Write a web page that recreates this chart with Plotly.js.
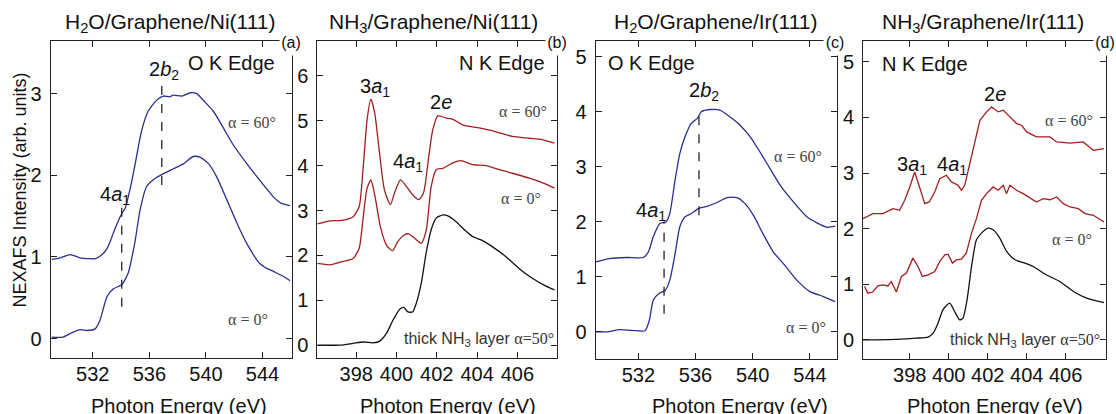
<!DOCTYPE html>
<html><head><meta charset="utf-8">
<script src="https://cdn.plot.ly/plotly-3.0.1.min.js"></script>
<style>html,body{margin:0;padding:0;background:#fff}#chart{width:1116px;height:414px}</style>
</head><body><div id="chart"></div>
<script>
// ---------- Panel (a): H2O / Graphene / Ni(111), O K edge ----------
const aE60 = [529.1,529.7,530.4,531.1,531.7,532.2,532.6,533.0,533.3,533.58,534.05,534.3,534.5,534.75,535.0,535.46,535.93,536.52,537.0,537.4,537.7,538.3,538.9,539.35,539.8,540.5,541.2,541.9,542.9,543.8,544.8,545.3,545.94];
const aI60 = [0.97,0.99,1.03,0.99,0.98,0.98,1.02,1.10,1.22,1.35,1.53,1.60,1.73,1.92,2.14,2.55,2.79,2.92,2.97,2.96,2.98,2.97,3.01,3.00,2.92,2.79,2.59,2.38,2.14,1.94,1.73,1.66,1.63];
const aE0 = [529.1,529.9,530.5,531.1,531.6,532.16,532.5,533.0,533.46,534.05,534.5,534.75,535.0,535.34,535.8,536.4,537.0,537.7,538.4,539.1,539.6,540.2,540.76,541.5,542.2,542.9,543.8,544.3,544.8,545.4,545.94];
const aI0 = [0.02,0.02,0.07,0.11,0.10,0.12,0.22,0.51,0.61,0.66,0.80,0.98,1.20,1.57,1.86,1.96,2.02,2.08,2.14,2.23,2.22,2.14,1.98,1.69,1.41,1.16,0.92,0.86,0.82,0.77,0.71];

// ---------- Panel (b): NH3 / Graphene / Ni(111), N K edge ----------
const bE60 = [396.07,396.7,397.3,397.85,398.15,398.35,398.54,398.73,398.92,399.14,399.4,399.7,399.9,400.2,400.5,400.8,401.1,401.34,401.6,401.8,402.05,402.46,402.8,403.28,404.1,404.9,405.75,406.58,407.23,407.84];
const bI60 = [2.70,2.77,2.78,2.86,3.09,3.98,5.02,5.48,5.17,4.35,3.46,3.13,3.39,3.68,3.53,3.35,3.24,3.39,4.20,4.80,5.11,5.06,5.03,4.91,4.84,4.76,4.65,4.61,4.58,4.50];
const bE0 = [396.07,396.7,397.3,397.85,398.15,398.35,398.54,398.73,398.92,399.2,399.5,399.8,400.07,400.4,400.6,400.9,401.23,401.48,401.72,401.97,402.3,402.8,403.2,403.78,404.44,405.1,405.75,406.58,407.23,407.84];
const bI0 = [1.82,1.79,1.86,1.93,2.16,2.86,3.50,3.68,3.35,2.64,2.23,2.10,2.31,2.46,2.48,2.38,2.27,2.57,3.53,3.91,3.94,4.06,4.11,4.02,4.00,3.91,3.83,3.72,3.62,3.50];
const bEthick = [396.07,397.2,397.85,398.35,398.84,399.17,399.5,399.83,400.16,400.36,400.57,400.8,400.98,401.23,401.47,401.72,401.97,402.3,402.55,402.96,403.37,403.78,404.27,404.77,405.43,406.08,406.74,407.4,407.84];
const bIthick = [0.0,0.0,0.04,0.07,0.05,0.09,0.26,0.56,0.80,0.84,0.74,0.74,0.93,1.38,2.05,2.57,2.83,2.90,2.88,2.75,2.57,2.42,2.33,2.19,1.97,1.71,1.49,1.32,1.23];

// ---------- Panel (c): H2O / Graphene / Ir(111), O K edge ----------
const cE60 = [529.04,530.0,531.2,532.35,532.7,533.05,533.5,533.94,534.2,534.57,534.9,535.27,535.7,536.13,536.4,537.0,537.7,538.4,539.1,539.8,540.5,541.2,541.9,542.84,543.78,544.48,545.2,545.76];
const cI60 = [1.27,1.33,1.35,1.35,1.45,1.73,1.97,2.00,2.15,2.76,3.24,3.55,3.79,3.88,4.00,4.04,4.03,3.91,3.76,3.55,3.27,2.97,2.67,2.36,2.09,1.98,1.90,1.92];
const cE0 = [529.04,529.8,530.7,531.9,532.47,532.77,533.05,533.47,533.87,534.2,534.57,534.9,535.27,535.7,536.2,536.8,537.5,538.2,538.9,539.46,540.04,540.7,541.44,542.14,543.08,544.0,544.94,545.76];
const cI0 = [0.0,0.0,0.04,0.02,0.02,0.21,0.58,0.70,0.75,0.94,1.42,1.91,2.09,2.15,2.24,2.28,2.35,2.44,2.44,2.33,2.12,1.79,1.45,1.24,0.94,0.73,0.64,0.55];

// ---------- Panel (d): NH3 / Graphene / Ir(111), N K edge ----------
const dE60 = [395.6,396.1,396.62,397.14,397.48,397.74,398.0,398.25,398.5,398.77,399.0,399.28,399.54,399.88,400.14,400.48,400.65,400.82,401.08,401.34,401.6,401.94,402.2,402.53,402.8,403.14,403.48,403.74,404.0,404.5,405.2,405.54,406.22,406.9,407.42,407.97];
const dI60 = [2.18,2.27,2.27,2.36,2.33,2.51,2.75,3.02,2.75,2.45,2.48,2.66,2.90,2.96,2.84,2.78,2.69,2.78,3.17,3.59,3.95,4.10,4.19,4.10,4.13,4.01,3.89,3.86,3.74,3.65,3.65,3.56,3.54,3.56,3.41,3.44];
const dE0 = [395.68,395.85,396.1,396.37,396.62,396.88,397.05,397.31,397.57,397.83,398.16,398.42,398.65,398.94,399.28,399.54,399.8,399.96,400.19,400.4,400.65,400.9,401.17,401.42,401.68,401.94,402.28,402.53,402.8,402.96,403.14,403.48,403.82,404.16,404.5,404.85,405.2,405.54,405.88,406.22,406.65,406.99,407.42,407.97];
const dI0 = [0.96,0.84,0.86,0.97,0.99,0.97,1.05,0.86,1.14,1.20,1.47,1.32,1.14,1.17,1.23,1.41,1.53,1.54,1.38,1.44,1.45,1.56,1.92,2.18,2.51,2.63,2.75,2.69,2.78,2.63,2.78,2.69,2.63,2.56,2.48,2.54,2.52,2.57,2.45,2.39,2.36,2.27,2.24,2.12];
const dEthick = [395.6,397.3,398.34,398.94,399.2,399.45,399.7,400.05,400.3,400.56,400.73,400.94,401.17,401.42,401.68,402.02,402.28,402.62,402.97,403.4,403.82,404.33,405.0,405.7,406.4,407.08,407.97];
const dIthick = [0.0,0.01,0.03,0.05,0.12,0.30,0.54,0.66,0.51,0.36,0.39,0.72,1.32,1.80,1.92,2.01,1.98,1.83,1.59,1.44,1.39,1.32,1.17,1.05,0.87,0.75,0.67];

// ---------- Tick values ----------
const oTicksX = [532,536,540,544];
const nTicksX = [398,400,402,404,406];
const aTicksY = [0,1,2,3];
const bTicksY = [0,1,2,3,4,5,6];
const cdTicksY = [0,1,2,3,4,5];

// Resonance marker energies (dashed lines) [x, yLow, yHigh]
const aMarks = [[534.05,0.39,1.64],[536.88,1.88,3.10]];
const cMarks = [[533.8,0.33,2.0],[536.24,2.12,3.94]];

const BLUE = '#2b2e8e', RED = '#a11d22', BLACK = '#111111';
const W = 1116, H = 414;
const px = v => v / W, py = v => 1 - v / H;

function tr(x, y, color, xa, ya, shape) {
  return {x, y, type:'scatter', mode:'lines', xaxis:xa, yaxis:ya,
          line:{color, width:1.3, shape:shape||'linear', smoothing:0.6}, hoverinfo:'skip'};
}
const data = [
  tr(aE60,aI60,BLUE,'x','y','spline'), tr(aE0,aI0,BLUE,'x','y','spline'),
  tr(bE60,bI60,RED,'x2','y2','spline'), tr(bE0,bI0,RED,'x2','y2','spline'), tr(bEthick,bIthick,BLACK,'x2','y2','spline'),
  tr(cE60,cI60,BLUE,'x3','y3','spline'), tr(cE0,cI0,BLUE,'x3','y3','spline'),
  tr(dE60,dI60,RED,'x4','y4'), tr(dE0,dI0,RED,'x4','y4'), tr(dEthick,dIthick,BLACK,'x4','y4','spline')
];

const FONT = 'Liberation Sans, Arial, sans-serif';
function xax(dom, range, ticks, anchor) {
  return {domain:dom, range, tickvals:ticks, ticktext:ticks.map(String), anchor,
    showline:true, linecolor:'#222', linewidth:1, mirror:'ticks', ticks:'inside', ticklen:6, tickwidth:1,
    tickcolor:'#222', showgrid:false, zeroline:false, fixedrange:true,
    tickfont:{family:FONT, size:20, color:'#111'}, ticklabelstandoff:-2};
}
function yax(dom, range, ticks, anchor) {
  return {domain:dom, range, tickvals:ticks, ticktext:ticks.map(String), anchor,
    showline:true, linecolor:'#222', linewidth:1, mirror:'ticks', ticks:'inside', ticklen:6, tickwidth:1,
    tickcolor:'#222', showgrid:false, zeroline:false, fixedrange:true,
    tickfont:{family:FONT, size:20, color:'#111'}, ticklabelstandoff:4};
}
const yTop = py(41.3);
const layout = {
  width:W, height:H, margin:{l:0,r:0,t:0,b:0}, paper_bgcolor:'#fff', plot_bgcolor:'rgba(0,0,0,0)',
  showlegend:false,
  xaxis: xax([px(50.7),px(291.7)], [529.03,546.06], oTicksX, 'y'),
  yaxis: yax([py(358.3),yTop], [-0.24,3.64], aTicksY, 'x'),
  xaxis2: xax([px(317.3),px(557.3)], [396.07,407.98], nTicksX, 'y2'),
  yaxis2: yax([py(357.7),yTop], [-0.28,6.77], bTicksY, 'x2'),
  xaxis3: xax([px(595.7),px(837.3)], [529.02,545.91], oTicksX, 'y3'),
  yaxis3: yax([py(359.3),yTop], [-0.50,5.28], cdTicksY, 'x3'),
  xaxis4: xax([px(863.0),px(1106)], [395.6,408.07], nTicksX, 'y4'),
  yaxis4: yax([py(359.3),yTop], [-0.35,5.37], cdTicksY, 'x4'),
  shapes: [], annotations: []
};
const dash = (m, xr, yr) => ({type:'line', xref:xr, yref:yr, x0:m[0], x1:m[0], y0:m[1], y1:m[2],
  line:{color:'#222', width:1.3, dash:'dash'}});
aMarks.forEach(m => layout.shapes.push(dash(m,'x','y')));
cMarks.forEach(m => layout.shapes.push(dash(m,'x3','y3')));

const A = layout.annotations;
function pa(text, x, y, size, opts) {
  A.push(Object.assign({text, xref:'paper', yref:'paper', x:px(x), y:py(y), showarrow:false,
    xanchor:'center', yanchor:'middle', font:{family:FONT, size:size, color:'#111'}}, opts||{}));
}
function da(text, xr, yr, x, y, size, opts) {
  A.push(Object.assign({text, xref:xr, yref:yr, x, y, showarrow:false,
    xanchor:'center', yanchor:'middle', font:{family:FONT, size:size, color:'#111'}}, opts||{}));
}
const SERIF = {family:'Liberation Serif, Times New Roman, serif', size:16, color:'#444'};
// Panel titles
pa('H<sub>2</sub>O/Graphene/Ni(111)', 170, 23, 21);
pa('NH<sub>3</sub>/Graphene/Ni(111)', 433, 23, 21);
pa('H<sub>2</sub>O/Graphene/Ir(111)', 715, 23, 21);
pa('NH<sub>3</sub>/Graphene/Ir(111)', 983, 23, 21);
// Panel letters (white box hides frame corner)
[['(a)',291],['(b)',557],['(c)',835],['(d)',1105]].forEach(p =>
  pa(p[0], p[1], 42, 16, {bgcolor:'#fff', width:22, height:26, borderpad:0}));
// Axis titles
['a','b','c','d'].forEach((k,i) => pa('Photon Energy (eV)', [179,448,740,995][i], 406, 20));
pa('NEXAFS Intensity (arb. units)', 19.5, 190, 18, {textangle:-90});

// Panel (a) labels
da('O K Edge','x','y',541.84,3.37,20);
da('2<i>b</i><sub>2</sub>','x','y',537.04,3.28,20);
da('4<i>a</i><sub>1</sub>','x','y',533.58,1.75,20);
da('α = 60°','x','y',543.26,2.65,16,{font:SERIF});
da('α = 0°','x','y',542.97,0.24,16,{font:SERIF});
// Panel (b) labels
da('N K Edge','x2','y2',405.25,6.29,20);
da('3<i>a</i><sub>1</sub>','x2','y2',398.92,5.74,20);
da('4<i>a</i><sub>1</sub>','x2','y2',400.55,4.06,20);
da('2<i>e</i>','x2','y2',402.23,5.42,20);
da('α = 60°','x2','y2',406.28,5.20,16,{font:SERIF});
da('α = 0°','x2','y2',406.18,3.26,16,{font:SERIF});
da("thick NH<sub>3</sub> layer <span style='font-family:Liberation Serif;'>α=50°</span>",'x2','y2',407.91,0.13,16,{xanchor:'right', font:{family:FONT,size:16,color:'#333'}});
// Panel (c) labels
da('O K Edge','x3','y3',532.89,4.89,20);
da('2<i>b</i><sub>2</sub>','x3','y3',536.59,4.36,20);
da('4<i>a</i><sub>1</sub>','x3','y3',532.89,2.19,20);
da('α = 60°','x3','y3',543.17,3.18,16,{font:SERIF});
da('α = 0°','x3','y3',543.73,0.07,16,{font:SERIF});
// Panel (d) labels
da('N K Edge','x4','y4',398.77,4.97,20);
da('2<i>e</i>','x4','y4',402.36,4.43,20);
da('3<i>a</i><sub>1</sub>','x4','y4',398.1,3.14,20);
da('4<i>a</i><sub>1</sub>','x4','y4',400.15,3.14,20);
da('α = 60°','x4','y4',406.17,3.95,16,{font:SERIF});
da('α = 0°','x4','y4',406.32,1.81,16,{font:SERIF});
da("thick NH<sub>3</sub> layer <span style='font-family:Liberation Serif;'>α=50°</span>",'x4','y4',407.87,-0.02,16,{xanchor:'right', font:{family:FONT,size:16,color:'#333'}});

Plotly.newPlot('chart', data, layout, {staticPlot:true, displayModeBar:false});
</script>
</body></html>
